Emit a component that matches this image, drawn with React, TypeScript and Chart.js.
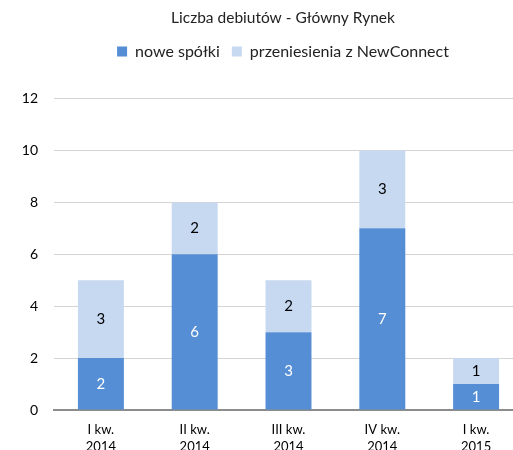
import React, { useEffect, useRef } from "react";
import { Chart, registerables } from "chart.js";

Chart.register(...registerables);

const categories: string[][] = [
  ["I kw.", "2014"],
  ["II kw.", "2014"],
  ["III kw.", "2014"],
  ["IV kw.", "2014"],
  ["I kw.", "2015"],
];
const noweSpolki: number[] = [2, 6, 3, 7, 1];
const przeniesienia: number[] = [3, 2, 2, 3, 1];
const yTicks = { min: 0, max: 12, step: 2 };

const FONT = "Lato";
const W = 566;
const H = 470;

const dataLabelPlugin = {
  id: "stackLabels",
  afterDatasetsDraw(chart: any) {
    const ctx = chart.ctx;
    ctx.save();
    ctx.font = `15px ${FONT}`;
    ctx.textAlign = "center";
    ctx.textBaseline = "middle";
    chart.data.datasets.forEach((ds: any, i: number) => {
      const meta = chart.getDatasetMeta(i);
      ctx.fillStyle = i === 0 ? "#ffffff" : "#000000";
      meta.data.forEach((bar: any, j: number) => {
        const { x, y, base } = bar.getProps(["x", "y", "base"], true);
        ctx.fillText(String(ds.data[j]), x, (y + base) / 2);
      });
    });
    ctx.restore();
  },
};

export default function App() {
  const ref = useRef<HTMLCanvasElement | null>(null);
  useEffect(() => {
    if (!ref.current) return;
    const chart = new Chart(ref.current, {
      type: "bar",
      data: {
        labels: categories,
        datasets: [
          {
            label: "nowe spółki",
            data: noweSpolki,
            backgroundColor: "#558ED5",
            categoryPercentage: 1,
            barPercentage: 0.49,
          },
          {
            label: "przeniesienia z NewConnect",
            data: przeniesienia,
            backgroundColor: "#C6D9F1",
            categoryPercentage: 1,
            barPercentage: 0.49,
          },
        ],
      },
      options: {
        animation: false,
        responsive: false,
        devicePixelRatio: 1,
        layout: { padding: 0 },
        plugins: {
          title: {
            display: true,
            text: "Liczba debiutów - Główny Rynek",
            color: "#222",
            font: { family: FONT, size: 15.5, weight: "normal" },
            padding: { top: 9, bottom: 4 },
          },
          legend: {
            display: true,
            position: "top",
            labels: {
              boxWidth: 10,
              boxHeight: 10,
              padding: 12,
              color: "#222",
              font: { family: FONT, size: 16 },
            },
          },
          subtitle: {
            display: true,
            text: "",
            weight: 500,
            font: { size: 10 },
            padding: { top: 8, bottom: 9 },
          },
          tooltip: { enabled: false },
        },
        scales: {
          x: {
            stacked: true,
            grid: { display: false },
            border: { display: true, color: "#8c8c8c", width: 2 },
            ticks: {
              color: "#000",
              font: { family: FONT, size: 13, lineHeight: 1.3 },
              padding: 3,
              maxRotation: 0,
              autoSkip: false,
            },
            afterFit: (scale: any) => {
              scale.height = H - 410;
            },
          },
          y: {
            stacked: true,
            min: yTicks.min,
            max: yTicks.max,
            ticks: {
              stepSize: yTicks.step,
              color: "#000",
              font: { family: FONT, size: 14 },
              padding: 16,
            },
            grid: { color: "#d4d4d4", lineWidth: 1, drawTicks: false },
            border: { display: false },
            afterFit: (scale: any) => {
              scale.width = 54;
            },
          },
          yRightSpace: {
            position: "right",
            display: true,
            grid: { display: false, drawTicks: false },
            ticks: { display: false },
            border: { display: false },
            afterFit: (scale: any) => {
              scale.width = W - 523;
            },
          },
        },
      },
      plugins: [dataLabelPlugin],
    });
    return () => chart.destroy();
  }, []);
  return (
    <div style={{ position: "fixed", left: 0, top: 0, width: W, height: H, overflow: "hidden" }}>
      <canvas ref={ref} width={W} height={H} style={{ display: "block" }} />
    </div>
  );
}
